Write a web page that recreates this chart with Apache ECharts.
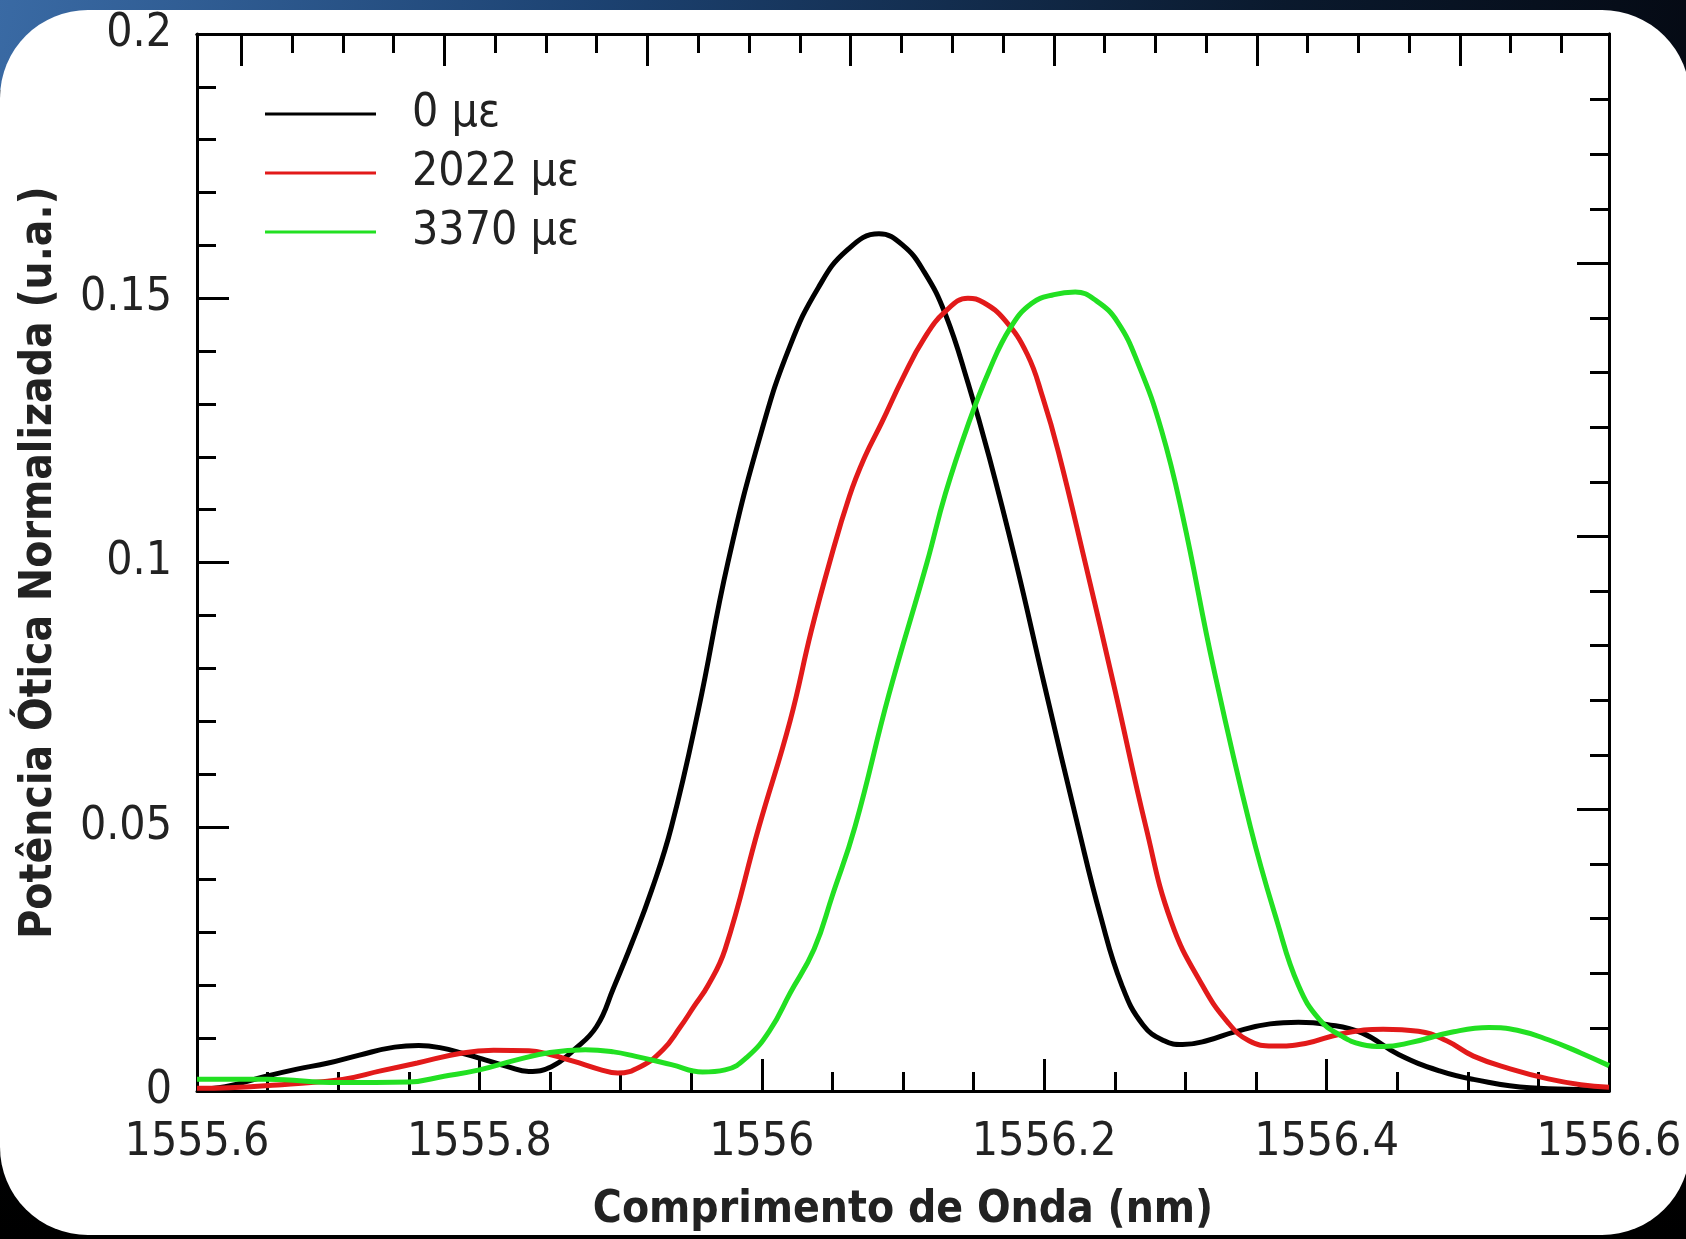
<!DOCTYPE html>
<html>
<head>
<meta charset="utf-8">
<script src="https://cdn.jsdelivr.net/npm/echarts@6/dist/echarts.min.js"></script>
<style>
  html, body { margin: 0; padding: 0; width: 1686px; height: 1239px; overflow: hidden; }
  body {
    background:
      linear-gradient(100deg, rgba(60,110,170,0.95) 0%, rgba(30,70,120,0.9) 35%, rgba(10,25,45,0.9) 75%, rgba(5,10,20,1) 100%) top left / 100% 90px no-repeat,
      linear-gradient(180deg, #0d1e33 0%, #05080c 60%, #000 100%);
  }
  #card { position: absolute; left: 0; top: 10px; width: 1690px; height: 1225px; border-radius: 88px; background: #fff; }
  #chart { position: absolute; left: 0; top: 0; width: 1686px; height: 1239px; }
</style>
</head>
<body>
<div id="card"></div>
<div id="chart"></div>
<script>
// ---- data ----
const seriesNames = ['0 \u03bc\u03b5', '2022 \u03bc\u03b5', '3370 \u03bc\u03b5'];

const wl0 = [1555.600, 1555.620, 1555.649, 1555.670, 1555.693, 1555.715, 1555.740, 1555.757, 1555.772, 1555.790,
             1555.804, 1555.820, 1555.835, 1555.851, 1555.867, 1555.883, 1555.895, 1555.908, 1555.922, 1555.936,
             1555.955, 1555.976, 1556.000, 1556.020, 1556.040, 1556.060, 1556.083, 1556.100, 1556.115, 1556.130,
             1556.146, 1556.161, 1556.180, 1556.200, 1556.224, 1556.240, 1556.255, 1556.270, 1556.285, 1556.298,
             1556.315, 1556.335, 1556.360, 1556.380, 1556.400, 1556.425, 1556.451, 1556.480, 1556.504, 1556.544,
             1556.600];
const pw0 = [0.0003, 0.0008, 0.0028, 0.0041, 0.0053, 0.0068, 0.0083, 0.0086, 0.0082, 0.0070,
             0.0059, 0.0046, 0.0037, 0.0046, 0.0078, 0.0122, 0.0195, 0.0280, 0.0380, 0.0500,
             0.0720, 0.1000, 0.1250, 0.1410, 0.1520, 0.1590, 0.1622, 0.1600, 0.1550, 0.1470,
             0.1340, 0.1200, 0.1000, 0.0770, 0.0500, 0.0330, 0.0200, 0.0125, 0.0095, 0.0088,
             0.0095, 0.0112, 0.0127, 0.0130, 0.0126, 0.0110, 0.0069, 0.0038, 0.0022, 0.0006,
             0.0002];

const wl1 = [1555.600, 1555.623, 1555.660, 1555.703, 1555.730, 1555.756, 1555.788, 1555.810, 1555.835, 1555.850,
             1555.867, 1555.885, 1555.898, 1555.914, 1555.930, 1555.942, 1555.952, 1555.962, 1555.974, 1555.998,
             1556.020, 1556.035, 1556.048, 1556.062, 1556.073, 1556.085, 1556.100, 1556.115, 1556.130, 1556.146,
             1556.157, 1556.172, 1556.188, 1556.199, 1556.210, 1556.229, 1556.250, 1556.272, 1556.290, 1556.312,
             1556.330, 1556.345, 1556.362, 1556.385, 1556.410, 1556.440, 1556.465, 1556.485, 1556.504, 1556.530,
             1556.557, 1556.580, 1556.600];
const pw1 = [0.0005, 0.0006, 0.0012, 0.0022, 0.0038, 0.0053, 0.0072, 0.0077, 0.0076, 0.0069,
             0.0056, 0.0041, 0.0034, 0.0046, 0.0078, 0.0120, 0.0160, 0.0200, 0.0268, 0.0500,
             0.0700, 0.0870, 0.1000, 0.1125, 0.1200, 0.1265, 0.1350, 0.1424, 0.1475, 0.1500,
             0.1492, 0.1459, 0.1394, 0.1312, 0.1210, 0.1000, 0.0760, 0.0500, 0.0320, 0.0200,
             0.0130, 0.0095, 0.0085, 0.0090, 0.0108, 0.0117, 0.0113, 0.0095, 0.0066, 0.0042,
             0.0023, 0.0012, 0.0007];

const wl2 = [1555.600, 1555.650, 1555.700, 1555.750, 1555.775, 1555.800, 1555.825, 1555.850, 1555.875, 1555.895,
             1555.910, 1555.936, 1555.958, 1555.974, 1555.990, 1556.006, 1556.020, 1556.037, 1556.050, 1556.066,
             1556.090, 1556.117, 1556.130, 1556.146, 1556.161, 1556.176, 1556.191, 1556.207, 1556.222, 1556.237,
             1556.252, 1556.267, 1556.283, 1556.298, 1556.320, 1556.346, 1556.365, 1556.380, 1556.395, 1556.410,
             1556.425, 1556.440, 1556.460, 1556.490, 1556.515, 1556.535, 1556.557, 1556.580, 1556.600];
const pw2 = [0.0022, 0.0022, 0.0016, 0.0017, 0.0028, 0.0040, 0.0058, 0.0073, 0.0078, 0.0074,
             0.0066, 0.0050, 0.0036, 0.0040, 0.0065, 0.0116, 0.0185, 0.0268, 0.0370, 0.0500,
             0.0750, 0.1000, 0.1130, 0.1260, 0.1363, 0.1444, 0.1490, 0.1507, 0.1512, 0.1495,
             0.1455, 0.1373, 0.1251, 0.1089, 0.0800, 0.0500, 0.0320, 0.0200, 0.0135, 0.0105,
             0.0088, 0.0084, 0.0092, 0.0112, 0.0120, 0.0115, 0.0097, 0.0072, 0.0048];

// mirror-axis tick positions (top axis in nm, right axis in y units)
const topMajorTicks = [1555.6314, 1555.7752, 1555.9191, 1556.0629, 1556.2068, 1556.3506, 1556.4945];
const topMinorTicks = [1555.6674, 1555.7033, 1555.7393, 1555.8112, 1555.8472, 1555.8831, 1555.9550, 1555.9910,
                       1556.0270, 1556.0989, 1556.1348, 1556.1708, 1556.2427, 1556.2787, 1556.3147, 1556.3866,
                       1556.4225, 1556.4585, 1556.5304, 1556.5664];
const rightMajorTicks = [0.15658, 0.10492, 0.05326];
const rightMinorTicks = [0.18758, 0.17724, 0.16691, 0.14625, 0.13592, 0.12558, 0.11525, 0.09459, 0.08426,
                         0.07392, 0.06359, 0.04293, 0.03260, 0.02226, 0.01193];

const colors = ['#000000', '#e21a1a', '#22e022'];

// ---- chart ----
const FONT = "'DejaVu Sans Condensed', 'DejaVu Sans', sans-serif";
const pairs = (xs, ys) => xs.map((x, i) => [x, ys[i]]);
const plainNum = v => String(Number(v.toFixed(4)));
const chart = echarts.init(document.getElementById('chart'), null, { renderer: 'canvas' });

const axisLine = { show: true, onZero: false, lineStyle: { color: '#000', width: 3 } };
const hiddenLabel = { show: false };

const option = {
  backgroundColor: 'transparent',
  animation: false,
  grid: { left: 197, right: 77, top: 34, bottom: 148, outerBoundsMode: 'none', containLabel: false },
  legend: {
    orient: 'vertical',
    left: 265, top: 90, padding: 0,
    icon: 'rect',
    itemWidth: 111, itemHeight: 3, itemGap: 11,
    data: seriesNames,
    textStyle: { fontFamily: FONT, fontSize: 46, color: '#222', lineHeight: 48, padding: [0, 0, 0, 31] }
  },
  xAxis: [
    {
      type: 'value', position: 'bottom', min: 1555.6, max: 1556.6, interval: 0.2,
      name: 'Comprimento de Onda (nm)', nameLocation: 'middle', nameGap: 98,
      nameTextStyle: { fontFamily: FONT, fontSize: 44, fontWeight: 'bold', color: '#222' },
      axisLine: axisLine,
      axisTick: { show: true, inside: true, length: 32, lineStyle: { color: '#000', width: 3 } },
      minorTick: { show: true, splitNumber: 4, length: 19, lineStyle: { color: '#000', width: 3 } },
      splitLine: { show: false },
      axisLabel: { fontFamily: FONT, fontSize: 46, color: '#222', margin: 29, formatter: plainNum }
    },
    {
      type: 'value', position: 'top', min: 1555.6, max: 1556.6,
      axisLine: axisLine,
      axisTick: { show: true, inside: true, length: 32, customValues: topMajorTicks, lineStyle: { color: '#000', width: 3 } },
      splitLine: { show: false }, axisLabel: hiddenLabel
    },
    {
      type: 'value', position: 'top', min: 1555.6, max: 1556.6,
      axisLine: axisLine,
      axisTick: { show: true, inside: true, length: 19, customValues: topMinorTicks, lineStyle: { color: '#000', width: 3 } },
      splitLine: { show: false }, axisLabel: hiddenLabel
    }
  ],
  yAxis: [
    {
      type: 'value', position: 'left', min: 0, max: 0.2, interval: 0.05,
      name: 'Pot\u00eancia \u00d3tica Normalizada (u.a.)', nameLocation: 'middle', nameGap: 135,
      nameTextStyle: { fontFamily: FONT, fontSize: 44, fontWeight: 'bold', color: '#222' },
      axisLine: axisLine,
      axisTick: { show: true, inside: true, length: 32, lineStyle: { color: '#000', width: 3 } },
      minorTick: { show: true, splitNumber: 5, length: 19, lineStyle: { color: '#000', width: 3 } },
      splitLine: { show: false },
      axisLabel: { fontFamily: FONT, fontSize: 46, color: '#222', margin: 25, formatter: plainNum }
    },
    {
      type: 'value', position: 'right', min: 0, max: 0.2,
      axisLine: axisLine,
      axisTick: { show: true, inside: true, length: 32, customValues: rightMajorTicks, lineStyle: { color: '#000', width: 3 } },
      splitLine: { show: false }, axisLabel: hiddenLabel
    },
    {
      type: 'value', position: 'right', min: 0, max: 0.2,
      axisLine: axisLine,
      axisTick: { show: true, inside: true, length: 19, customValues: rightMinorTicks, lineStyle: { color: '#000', width: 3 } },
      splitLine: { show: false }, axisLabel: hiddenLabel
    }
  ],
  series: [
    { name: seriesNames[0], type: 'line', data: pairs(wl0, pw0) },
    { name: seriesNames[1], type: 'line', data: pairs(wl1, pw1) },
    { name: seriesNames[2], type: 'line', data: pairs(wl2, pw2) }
  ].map((s, i) => Object.assign(s, {
    xAxisIndex: 0, yAxisIndex: 0, symbol: 'none', showSymbol: false, smooth: 0.45,
    color: colors[i], itemStyle: { color: colors[i] }, lineStyle: { color: colors[i], width: 5 }
  }))
};
chart.setOption(option);
</script>
</body>
</html>
